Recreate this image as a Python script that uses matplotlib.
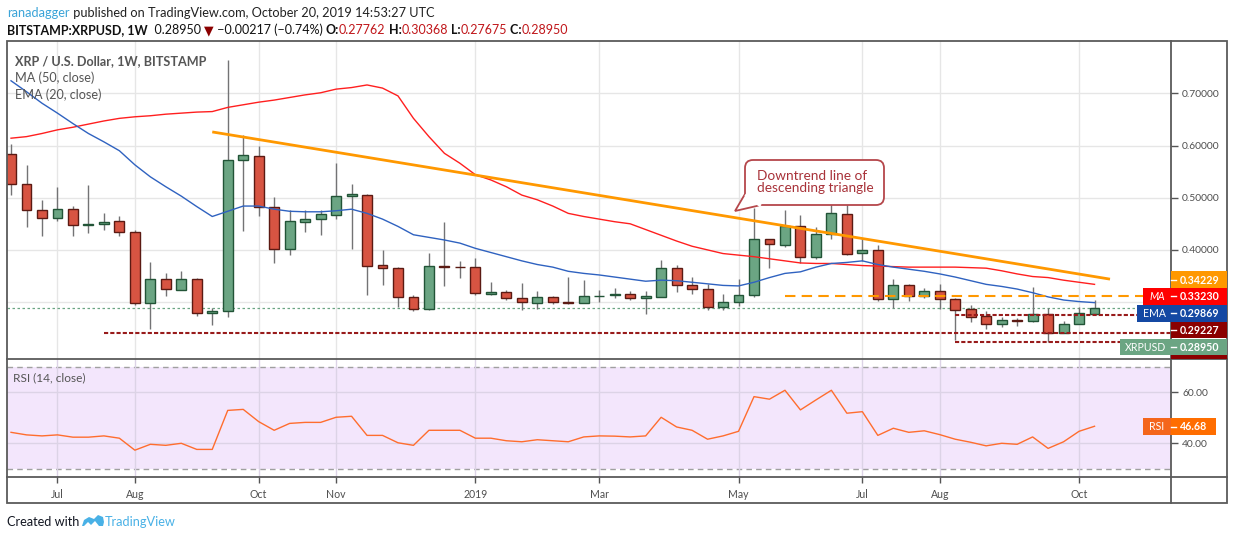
import matplotlib
matplotlib.use("Agg")
import matplotlib.pyplot as plt
from matplotlib.patches import Rectangle, FancyBboxPatch, Polygon

W, H = 1234, 540

# weekly bars, 11 Jun 2018 .. 14 Oct 2019 (index 0..70)
opens = [0.583, 0.527, 0.476, 0.462, 0.478, 0.447, 0.449, 0.455, 0.435, 0.298,
         0.344, 0.324, 0.344, 0.279, 0.282, 0.572, 0.579, 0.482, 0.401, 0.454,
         0.460, 0.466, 0.503, 0.506, 0.371, 0.366, 0.309, 0.286, 0.370, 0.368,
         0.367, 0.316, 0.319, 0.307, 0.299, 0.309, 0.300, 0.298, 0.311, 0.313,
         0.315, 0.307, 0.309, 0.365, 0.332, 0.325, 0.291, 0.300, 0.313, 0.420,
         0.410, 0.445, 0.387, 0.430, 0.468, 0.395, 0.400, 0.305, 0.333, 0.312,
         0.321, 0.305, 0.286, 0.273, 0.259, 0.265, 0.263, 0.278, 0.241, 0.258,
         0.27762]
highs = [0.602, 0.563, 0.496, 0.521, 0.485, 0.524, 0.470, 0.465, 0.439, 0.377,
         0.355, 0.360, 0.346, 0.288, 0.764, 0.621, 0.600, 0.501, 0.476, 0.476,
         0.476, 0.566, 0.526, 0.507, 0.400, 0.367, 0.313, 0.395, 0.453, 0.379,
         0.385, 0.339, 0.323, 0.336, 0.321, 0.312, 0.348, 0.342, 0.324, 0.327,
         0.322, 0.321, 0.381, 0.372, 0.349, 0.335, 0.316, 0.344, 0.480, 0.420,
         0.476, 0.467, 0.443, 0.507, 0.496, 0.423, 0.409, 0.344, 0.334, 0.327,
         0.334, 0.308, 0.294, 0.283, 0.271, 0.269, 0.329, 0.289, 0.263, 0.291,
         0.30368]
lows = [0.505, 0.443, 0.427, 0.455, 0.427, 0.433, 0.438, 0.427, 0.294, 0.249,
        0.312, 0.324, 0.273, 0.257, 0.271, 0.437, 0.464, 0.375, 0.391, 0.435,
        0.429, 0.460, 0.402, 0.314, 0.333, 0.290, 0.282, 0.284, 0.330, 0.347,
        0.314, 0.314, 0.304, 0.284, 0.287, 0.297, 0.297, 0.298, 0.301, 0.307,
        0.304, 0.278, 0.309, 0.320, 0.316, 0.284, 0.285, 0.292, 0.310, 0.365,
        0.406, 0.374, 0.383, 0.420, 0.391, 0.379, 0.303, 0.288, 0.303, 0.308,
        0.286, 0.227, 0.261, 0.249, 0.252, 0.255, 0.261, 0.224, 0.241, 0.258,
        0.27675]
closes = [0.527, 0.476, 0.462, 0.478, 0.447, 0.449, 0.453, 0.435, 0.298, 0.344,
          0.326, 0.344, 0.279, 0.282, 0.572, 0.581, 0.482, 0.401, 0.455, 0.460,
          0.469, 0.503, 0.507, 0.370, 0.366, 0.309, 0.286, 0.370, 0.368, 0.367,
          0.317, 0.319, 0.307, 0.301, 0.309, 0.301, 0.299, 0.311, 0.312, 0.315,
          0.307, 0.311, 0.365, 0.332, 0.325, 0.291, 0.300, 0.313, 0.420, 0.411,
          0.445, 0.387, 0.430, 0.470, 0.393, 0.400, 0.305, 0.333, 0.312, 0.321,
          0.305, 0.284, 0.271, 0.259, 0.265, 0.264, 0.278, 0.241, 0.258, 0.280,
          0.28950]

ma50 = [0.614, 0.617, 0.623, 0.630, 0.635, 0.641, 0.647, 0.652, 0.655, 0.657,
        0.660, 0.662, 0.664, 0.665, 0.673, 0.678, 0.683, 0.687, 0.692, 0.697,
        0.701, 0.708, 0.711, 0.716, 0.710, 0.695, 0.652, 0.617, 0.585, 0.566,
        0.544, 0.534, 0.521, 0.505, 0.496, 0.484, 0.470, 0.464, 0.459, 0.454,
        0.450, 0.439, 0.428, 0.417, 0.407, 0.400, 0.393, 0.390, 0.387, 0.383,
        0.379, 0.375, 0.374, 0.374, 0.372, 0.370, 0.369, 0.368, 0.367, 0.367,
        0.367, 0.367, 0.366, 0.365, 0.360, 0.354, 0.349, 0.347, 0.342, 0.338,
        0.334]
ema20 = [0.724, 0.703, 0.681, 0.662, 0.642, 0.623, 0.607, 0.590, 0.563, 0.540,
         0.521, 0.503, 0.483, 0.464, 0.474, 0.484, 0.484, 0.478, 0.474, 0.473,
         0.473, 0.475, 0.478, 0.470, 0.459, 0.445, 0.429, 0.424, 0.419, 0.413,
         0.403, 0.395, 0.387, 0.379, 0.372, 0.367, 0.359, 0.355, 0.352, 0.348,
         0.344, 0.340, 0.342, 0.341, 0.338, 0.335, 0.332, 0.331, 0.338, 0.347,
         0.355, 0.358, 0.367, 0.374, 0.376, 0.379, 0.372, 0.367, 0.363, 0.359,
         0.354, 0.348, 0.341, 0.334, 0.330, 0.325, 0.318, 0.310, 0.304, 0.301,
         0.299]
rsi = [44.3, 43.3, 42.9, 43.3, 42.4, 42.4, 42.9, 42.0, 37.3, 39.6,
       39.2, 40.0, 37.6, 37.6, 52.9, 53.3, 48.5, 45.1, 47.8, 48.2,
       48.2, 50.2, 50.6, 43.1, 43.1, 40.2, 39.2, 45.1, 45.1, 45.1,
       42.0, 42.0, 41.0, 40.6, 41.4, 41.0, 40.6, 42.5, 42.9, 42.8,
       42.5, 42.9, 50.2, 46.4, 45.1, 41.6, 42.9, 44.7, 58.3, 57.3,
       60.8, 53.1, 57.0, 60.8, 51.8, 52.4, 43.1, 45.9, 44.3, 44.9,
       43.4, 41.6, 40.4, 39.0, 40.0, 39.6, 42.5, 38.0, 40.6, 44.7,
       46.68]

month_idx = [3, 8, 16, 21, 30, 38, 47, 55, 60, 69]
month_lbl = ["Jul", "Aug", "Oct", "Nov", "2019", "Mar", "May", "Jul", "Aug", "Oct"]

# drawings
trend_x = [13, 71]
trend_y = [0.626, 0.344]
resist_lvl, resist_from = 0.312, 50
support_lvls = [0.240, 0.275, 0.224]
support_from = [6, 61, 61]

UP, DOWN = "#6ba583", "#d75442"
UP_EDGE, DOWN_EDGE = "#225437", "#5b1a13"
GRID = "#e6e6e6"
TXT = "#4e4e4e"

plt.rcParams['font.family'] = ['Lato', 'DejaVu Sans']

fig = plt.figure(figsize=(W / 100, H / 100), dpi=100)


def fr(x0, y0, x1, y1):
    return [x0 / W, 1 - y1 / H, (x1 - x0) / W, (y1 - y0) / H]


ax = fig.add_axes(fr(7, 41, 1171, 359))
axr = fig.add_axes(fr(7, 359, 1171, 477))
xs = list(range(len(closes)))
xlim = (-0.26, 74.94)

# ---- price pane
for i in xs:
    o, c = opens[i], closes[i]
    up = c >= o
    ax.vlines(i, lows[i], highs[i], color="#737375", lw=1, zorder=2)
    ax.bar(i, max(abs(c - o), 0.0008), bottom=min(o, c), width=0.64,
           color=UP if up else DOWN, edgecolor=UP_EDGE if up else DOWN_EDGE,
           lw=1, zorder=3)

ax.plot(xs, ma50, color="#ff1f1f", lw=1, zorder=4)
ax.plot(xs, ema20, color="#2f62c0", lw=1, zorder=4)
ax.plot(trend_x, trend_y, color="#ff9800", lw=2, zorder=5, solid_capstyle="butt")
ax.hlines(resist_lvl, resist_from, xlim[1], color="#ff9800", lw=1.5,
          linestyles=[(0, (5, 3))], zorder=5)
for lv, st in zip(support_lvls, support_from):
    ax.hlines(lv, st, xlim[1], color="#981b1b", lw=1.5,
              linestyles=[(0, (2, 1))], zorder=5)
ax.axhline(closes[-1], color=UP, lw=0.9, ls=(0, (2, 2)), zorder=1)

ax.set_xlim(xlim)
ax.set_ylim(0.191, 0.8002)
ax.set_xticks(month_idx)
ax.set_yticks([0.3, 0.4, 0.5, 0.6, 0.7])
ax.set_yticklabels(["", "0.40000", "0.50000", "0.60000", "0.70000"])
ax.yaxis.tick_right()
ax.tick_params(axis="x", length=0, labelbottom=False)
ax.tick_params(axis="y", length=5, width=1, color="#555555", pad=3,
               labelsize=7.4, labelcolor=TXT)
ax.grid(True, color=GRID, lw=1, zorder=0)
ax.set_axisbelow(True)
for s in ax.spines.values():
    s.set_visible(False)

# ---- RSI pane
axr.axhspan(30, 70, color="#f3e6fc", lw=0, zorder=0)
axr.hlines([30, 70], *xlim, color="#a0a0a0", lw=1, linestyles=[(0, (4, 3))], zorder=1)
axr.plot(xs, rsi, color="#ff6d2e", lw=1, zorder=3)
axr.set_xlim(xlim)
axr.set_ylim(26.78, 73.06)
axr.set_yticks([40, 60])
axr.set_yticklabels(["40.00", "60.00"])
axr.yaxis.tick_right()
axr.set_xticks(month_idx)
axr.set_xticklabels(month_lbl)
axr.tick_params(axis="y", length=5, width=1, color="#555555", pad=3,
                labelsize=7.4, labelcolor=TXT)
axr.tick_params(axis="x", length=4, width=1, color="#555555", pad=5,
                labelsize=7.6, labelcolor=TXT)
axr.grid(True, color="#dcd3e6", lw=1, zorder=1)
for s in axr.spines.values():
    s.set_visible(False)

# ---- overlay in pixel coordinates
ov = fig.add_axes([0, 0, 1, 1])
ov.set_xlim(0, W)
ov.set_ylim(H, 0)
ov.axis("off")

FR = "#5a5a5a"
ov.add_patch(Rectangle((7, 41), 1220, 462, fill=False, ec=FR, lw=1.3, zorder=2))
ov.plot([7, 1227], [359, 359], color=FR, lw=1.3, zorder=2)
ov.plot([7, 1227], [477, 477], color=FR, lw=1.3, zorder=2)
ov.plot([1171, 1171], [41, 503], color=FR, lw=1.3, zorder=2)


def tag(y0, y1, x0, x1, s, bg, ha="left", style="normal", tick=True):
    ov.add_patch(Rectangle((x0, y0), x1 - x0, y1 - y0, color=bg, lw=0, zorder=6))
    if ha == "left":
        if tick:
            ov.plot([1171, 1176], [(y0 + y1) / 2] * 2, color="white", lw=1, zorder=7)
        ov.text(1180, (y0 + y1) / 2 + 0.5, s, color="white", fontsize=7.7,
                fontweight="bold", va="center", ha="left", zorder=7)
    else:
        ov.text((x0 + x1) / 2, (y0 + y1) / 2 + 0.5, s, color="white", fontsize=7.6,
                fontstyle=style, va="center", ha="center", zorder=7)


tag(271, 288, 1171, 1227, "0.34229", "#ff9800")
tag(288, 304.5, 1171, 1227, "0.33230", "#ff0000")
tag(288, 304.5, 1143, 1171, "MA", "#ff0000", ha="center", style="italic")
tag(305, 321.5, 1171, 1227, "0.29869", "#1448a3")
tag(305, 321.5, 1137, 1171, "EMA", "#1448a3", ha="center")
tag(321.7, 338, 1171, 1227, "0.29227", "#8b0000")
tag(338.7, 355, 1171, 1227, "0.28950", UP)
tag(338.7, 355, 1120, 1171, "XRPUSD", UP, ha="center")
ov.add_patch(Rectangle((1171, 355), 56, 3.5, color="#8b0000", lw=0, zorder=6))
tag(418, 435, 1171, 1216, "46.68", "#ff6d00")
tag(418, 435, 1143, 1171, "RSI", "#f4661b", ha="center")

# legends inside panes
ov.text(15, 61, "XRP / U.S. Dollar, 1W, BITSTAMP", color="#555555", fontsize=9.1,
        fontweight="bold", va="center", zorder=8)
ov.text(15, 78, "MA (50, close)", color="#555555", fontsize=9.1, va="center", zorder=8)
ov.text(15, 95, "EMA (20, close)", color="#555555", fontsize=9.1, va="center", zorder=8)
ov.text(13, 378, "RSI (14, close)", color="#555555", fontsize=8.6, va="center", zorder=8)

# callout
ov.add_patch(FancyBboxPatch((745, 160), 139, 45, boxstyle="round,pad=0,rounding_size=8",
                            fc="white", ec="#b5474b", lw=1.3, zorder=8))
ov.add_patch(Polygon([(745, 194), (735, 211), (761, 205)], closed=False,
                     fc="white", ec="#b5474b", lw=1.3, zorder=9))
ov.plot([746.5, 759.5], [195.5, 205], color="white", lw=2.2, zorder=9)
ov.text(757, 176, "Downtrend line of", color="#a83239", fontsize=9.8, va="center", zorder=10)
ov.text(757, 188.5, "descending triangle", color="#a83239", fontsize=9.8, va="center", zorder=10)

# header lines
rend = fig.canvas.get_renderer()


def seq(x, y, parts, size):
    for s, col, wt in parts:
        t = ov.text(x, y, s, color=col, fontsize=size, fontweight=wt, va="center", zorder=10)
        x += t.get_window_extent(renderer=rend).width


seq(7, 13, [("ranadagger", "#3ba4d8", "normal"),
            (" published on TradingView.com, October 20, 2019 14:53:27 UTC", "#222222", "normal")], 9.2)
RED = "#c0161a"
seq(7, 30, [("BITSTAMP:XRPUSD, 1W", "#111111", "bold"),
            ("  0.28950 ", "#111111", "normal"),
            ("\u25bc", "#8b0000", "normal"),
            (" \u22120.00217 (\u22120.74%) ", "#111111", "normal"),
            ("O:", "#111111", "bold"), ("0.27762", RED, "normal"),
            (" H:", "#111111", "bold"), ("0.30368", RED, "normal"),
            (" L:", "#111111", "bold"), ("0.27675", RED, "normal"),
            (" C:", "#111111", "bold"), ("0.28950", RED, "normal")], 9.0)

# footer
ov.text(7, 522, "Created with", color="#131722", fontsize=9.2, va="center", zorder=10)
ov.add_patch(Polygon([(82, 526), (84, 520), (89, 517), (94, 519), (98, 515), (103, 517),
                      (104, 522), (103, 526), (99, 526), (95, 521), (91, 525), (88, 522),
                      (84, 526)], closed=True, fc="#49b1e6", ec="none", zorder=10))
ov.text(105, 522, "TradingView", color="#49b1e6", fontsize=9.2, va="center", zorder=10)

fig.savefig("out.png", dpi=100)
